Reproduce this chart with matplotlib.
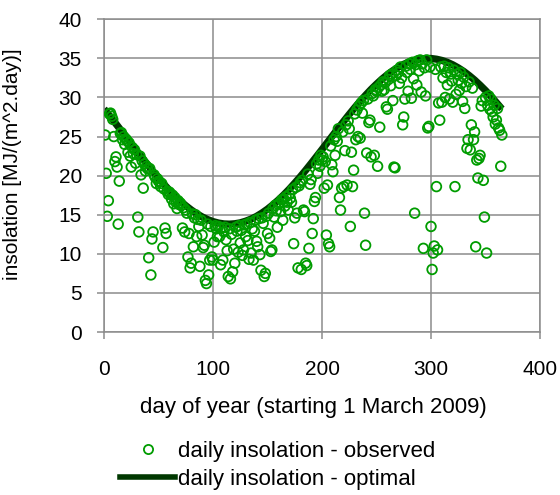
import numpy as np
import matplotlib
matplotlib.use("Agg")
import matplotlib.pyplot as plt
from matplotlib.lines import Line2D

# Daily insolation observed at the site, days 1..365 (starting 1 March 2009)
observed = [
    25.2, 20.3, 14.8, 16.8, 27.9, 28.0, 27.6, 27.2, 25.0, 21.8,
    22.4, 21.1, 13.8, 19.3, 25.4, 25.5, 24.6, 25.0, 24.0, 24.7,
    24.5, 23.0, 24.2, 22.5, 21.1, 23.6, 22.8, 23.3, 21.6, 22.7,
    14.7, 12.8, 22.5, 20.1, 21.9, 18.4, 21.5, 20.6, 21.2, 20.9,
    9.5, 20.9, 7.3, 11.9, 12.8, 20.1, 19.8, 19.0, 19.6, 19.3,
    19.2, 18.6, 19.0, 10.8, 18.3, 13.3, 12.6, 18.0, 17.6, 17.9,
    17.7, 17.0, 17.5, 16.4, 17.2, 16.6, 15.8, 16.8, 16.3, 16.5,
    16.2, 13.3, 15.9, 12.8, 15.6, 15.2, 9.6, 12.6, 8.2, 8.8,
    15.1, 10.9, 14.6, 15.0, 12.2, 14.4, 13.5, 8.4, 14.3, 12.4,
    10.8, 11.1, 6.6, 6.2, 13.8, 7.3, 9.2, 13.5, 9.6, 9.2,
    11.5, 13.6, 13.2, 12.2, 13.5, 12.2, 8.6, 13.3, 9.2, 12.8,
    13.4, 11.8, 10.4, 7.1, 13.2, 6.8, 12.5, 7.7, 10.6, 8.8,
    13.4, 12.9, 10.2, 13.6, 11.4, 13.0, 9.8, 10.5, 13.7, 12.2,
    13.8, 11.7, 9.3, 14.0, 10.1, 13.2, 9.2, 12.9, 14.3, 11.6,
    10.9, 14.5, 9.9, 7.9, 14.6, 13.9, 7.1, 7.5, 14.8, 12.6,
    15.2, 12.0, 10.3, 10.5, 15.8, 14.7, 16.2, 15.5, 13.4, 16.3,
    16.5, 15.4, 16.9, 14.3, 17.0, 16.1, 17.3, 16.6, 15.6, 17.6,
    17.1, 16.6, 18.2, 11.3, 14.6, 18.5, 15.2, 8.2, 18.7, 19.1,
    8.0, 19.4, 15.6, 15.4, 8.8, 8.5, 20.2, 10.7, 18.9, 19.5,
    12.6, 14.5, 16.7, 17.2, 21.5, 20.3, 22.0, 21.2, 22.6, 22.0,
    22.4, 18.4, 21.8, 12.4, 18.8, 11.3, 10.9, 23.8, 21.4, 20.5,
    24.6, 22.6, 25.0, 24.4, 26.0, 17.2, 15.6, 18.4, 25.6, 18.6,
    23.2, 26.5, 18.8, 27.0, 26.0, 13.5, 23.0, 18.6, 20.7, 27.9,
    24.6, 28.4, 25.0, 28.9, 24.8, 29.3, 28.0, 29.6, 15.2, 11.1,
    22.9, 29.8, 26.8, 27.1, 22.4, 30.5, 30.2, 22.6, 31.0, 30.8,
    21.2, 31.3, 26.2, 31.6, 30.8, 32.0, 31.0, 31.9, 28.8, 28.5,
    32.3, 32.8, 31.5, 33.0, 29.6, 21.1, 21.0, 32.8, 33.5, 33.2,
    31.8, 33.9, 32.5, 26.5, 27.5, 29.8, 34.0, 33.2, 30.8, 34.3,
    33.6, 29.9, 34.5, 32.4, 15.2, 34.2, 31.6, 34.7, 33.4, 34.8,
    30.7, 34.3, 10.7, 33.8, 30.2, 34.8, 26.1, 26.3, 33.9, 13.5,
    8.0, 10.1, 11.0, 33.6, 18.6, 10.5, 29.3, 27.1, 33.9, 29.4,
    32.5, 34.0, 30.0, 33.2, 31.6, 33.8, 29.8, 33.0, 32.1, 29.4,
    33.5, 18.6, 30.4, 33.0, 32.2, 30.9, 33.2, 31.8, 29.5, 32.6,
    28.6, 31.4, 23.5, 24.6, 32.0, 23.3, 26.5, 31.2, 24.6, 25.6,
    10.9, 22.0, 19.7, 22.2, 22.6, 28.9, 29.6, 19.4, 14.7, 30.0,
    10.1, 29.0, 30.2, 28.5, 29.8, 28.2, 27.5, 29.0, 26.6, 27.1,
    28.6, 26.1, 25.8, 21.2, 25.2,
]
observed_days = np.arange(1, len(observed) + 1)

# Clear-sky (optimal) daily insolation, every fifth day
optimal_days = list(range(0, 366, 5))
optimal = [
    28.53, 27.68, 26.80, 25.90, 24.99, 24.08, 23.17, 22.27, 21.39, 20.52,
    19.69, 18.89, 18.13, 17.42, 16.76, 16.16, 15.62, 15.14, 14.73, 14.39,
    14.13, 13.94, 13.83, 13.80, 13.85, 13.97, 14.18, 14.45, 14.80, 15.23,
    15.72, 16.28, 16.89, 17.56, 18.28, 19.05, 19.85, 20.69, 21.56, 22.45,
    23.35, 24.26, 25.17, 26.08, 26.97, 27.85, 28.70, 29.52, 30.29, 31.03,
    31.71, 32.35, 32.92, 33.43, 33.88, 34.25, 34.55, 34.77, 34.92, 34.99,
    34.99, 34.90, 34.74, 34.50, 34.18, 33.79, 33.34, 32.81, 32.23, 31.58,
    30.89, 30.14, 29.35, 28.53,
]

x_ticks = [0, 100, 200, 300, 400]
y_ticks = [0, 5, 10, 15, 20, 25, 30, 35, 40]

plt.rcParams["font.family"] = ["Liberation Sans", "DejaVu Sans"]
GRID = "#8C8C8C"
OBS_COLOR = "#009C00"
OPT_COLOR = "#003800"

fig = plt.figure(figsize=(5.6, 4.95), dpi=100)
ax = fig.add_axes([104 / 560, 1 - 332 / 495, 436 / 560, 312.7 / 495])

ax.plot(optimal_days, optimal, color=OPT_COLOR, lw=5.2, solid_capstyle="butt", zorder=2)
ax.scatter(observed_days, observed, s=48, facecolors="none", edgecolors=OBS_COLOR,
           linewidths=1.3, zorder=3)

ax.set_xlim(0, 400)
ax.set_ylim(0, 40)
ax.set_xticks(x_ticks)
ax.set_yticks(y_ticks)
ax.grid(True, color=GRID, lw=1.1, zorder=0)
ax.set_axisbelow(True)
for s in ax.spines.values():
    s.set_color(GRID)
    s.set_linewidth(1.1)
ax.tick_params(axis="both", direction="out", color=GRID, width=1.1, length=5,
               labelsize=15, labelcolor="black")
ax.tick_params(axis="y", pad=11)
ax.tick_params(axis="x", pad=15)

ax.set_ylabel("insolation [MJ/(m^2.day)]", fontsize=15)
ax.yaxis.set_label_coords(-0.189, 0.537)
fig.text(313 / 560, 1 - 408 / 495, "day of year (starting 1 March 2009)",
         fontsize=16, ha="center", va="center")

handles = [
    Line2D([], [], ls="none", marker="o", markersize=6.6, markerfacecolor="none",
           markeredgecolor=OBS_COLOR, markeredgewidth=1.3),
    Line2D([], [], color=OPT_COLOR, lw=4.0),
]
labels = ["daily insolation - observed", "daily insolation - optimal"]
fig.legend(handles, labels, loc="center left",
           bbox_to_anchor=(120 / 560, 1 - 465.5 / 495), frameon=False,
           fontsize=16, handlelength=2.48, handletextpad=0.14,
           labelspacing=0.3, borderpad=0, borderaxespad=0)

fig.savefig("out.png", dpi=100)
